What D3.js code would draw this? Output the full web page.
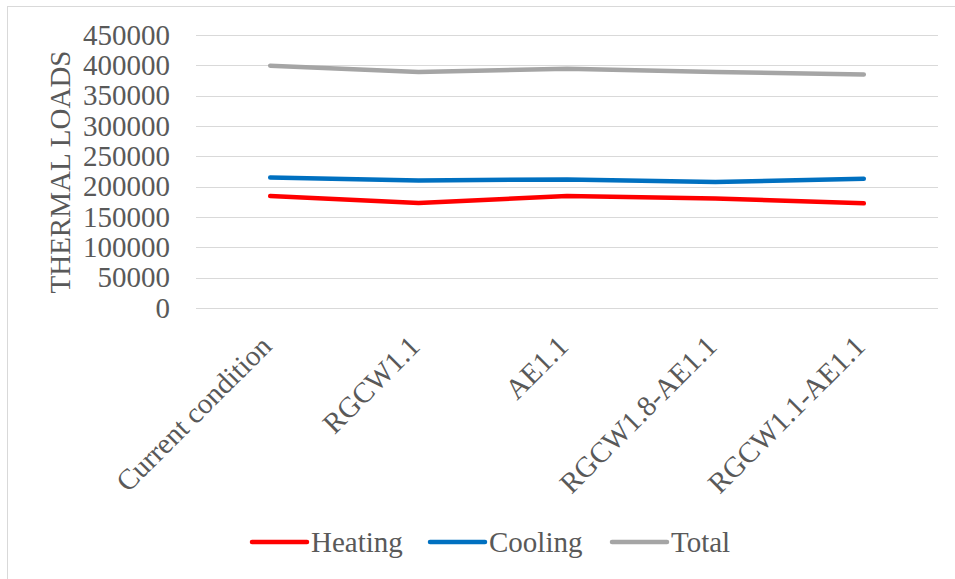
<!DOCTYPE html>
<html><head><meta charset="utf-8">
<script src="https://cdn.jsdelivr.net/npm/d3@7/dist/d3.min.js"></script>
<style>body{margin:0;background:#fff}svg{display:block}</style>
</head><body>
<script>
const categories = ["Current condition","RGCW1.1","AE1.1","RGCW1.8-AE1.1","RGCW1.1-AE1.1"];
const heating = [184500,173000,184500,180500,172500];
const cooling = [215000,210000,212000,207500,213000];
const total = [399500,389000,394500,389000,385000];
const yTicks = [0,50000,100000,150000,200000,250000,300000,350000,400000,450000];
const seriesNames = ["Heating","Cooling","Total"];
const seriesColors = ["#FF0000","#0070C0","#A5A5A5"];
const seriesData = [heating, cooling, total];

(function(){
const W=955,H=579;
const FF='"Liberation Serif"';
const FS=29;
const svg=d3.select("body").append("svg").attr("width",W).attr("height",H);
svg.append("rect").attr("x",7.5).attr("y",6.5).attr("width",W).attr("height",H).attr("fill","#fff").attr("stroke","#D9D9D9").attr("stroke-width",1);

const pl=196,pr=938,pt=35,pb=308;
const x=d3.scaleBand().domain(categories).range([pl,pr]);
const y=d3.scaleLinear().domain([0,450000]).range([pb,pt]);
const tc="#595959";

svg.append("g").selectAll("line").data(yTicks).join("line")
 .attr("x1",pl).attr("x2",pr).attr("y1",d=>Math.round(y(d))+0.5).attr("y2",d=>Math.round(y(d))+0.5)
 .attr("stroke","#D9D9D9").attr("stroke-width",1);

const yAxis=svg.append("g").attr("transform",`translate(${pl},0)`)
 .call(d3.axisLeft(y).tickValues(yTicks).tickFormat(d3.format("d")).tickSize(0).tickPadding(26));
yAxis.select(".domain").remove();
yAxis.attr("font-family",null).attr("font-size",null);
yAxis.selectAll("text").style("font-family",FF).style("font-size",FS+"px").attr("fill",tc);

svg.append("text").attr("transform",`translate(70,172) rotate(-90)`).attr("text-anchor","middle")
 .style("font-family",FF).style("font-size",FS+"px").attr("fill",tc).text("THERMAL LOADS");

const xAxis=svg.append("g").attr("transform",`translate(0,${pb})`)
 .call(d3.axisBottom(x).tickSize(0).tickPadding(0));
xAxis.select(".domain").remove();
xAxis.attr("font-family",null).attr("font-size",null);
xAxis.selectAll("text").style("font-family",FF).style("font-size",FS+"px").attr("fill",tc)
 .attr("text-anchor","end").attr("dy",0).attr("y",0)
 .attr("transform","translate(3,40) rotate(-45)");

const line=d3.line().x((d,i)=>x(categories[i])+x.bandwidth()/2).y(d=>y(d));
seriesData.forEach((s,k)=>{
 svg.append("path").datum(s).attr("d",line).attr("fill","none")
  .attr("stroke",seriesColors[k]).attr("stroke-width",4.5).attr("stroke-linecap","round").attr("stroke-linejoin","round");
});

const legX=[252,430,612];
const lg=svg.append("g");
seriesNames.forEach((n,k)=>{
 lg.append("line").attr("x1",legX[k]).attr("x2",legX[k]+55).attr("y1",542).attr("y2",542)
  .attr("stroke",seriesColors[k]).attr("stroke-width",4.5).attr("stroke-linecap","round");
 lg.append("text").attr("x",legX[k]+59).attr("y",542).attr("dy","0.35em")
  .style("font-family",FF).style("font-size",FS+"px").attr("fill",tc).text(n);
});
})();
</script>
</body></html>
